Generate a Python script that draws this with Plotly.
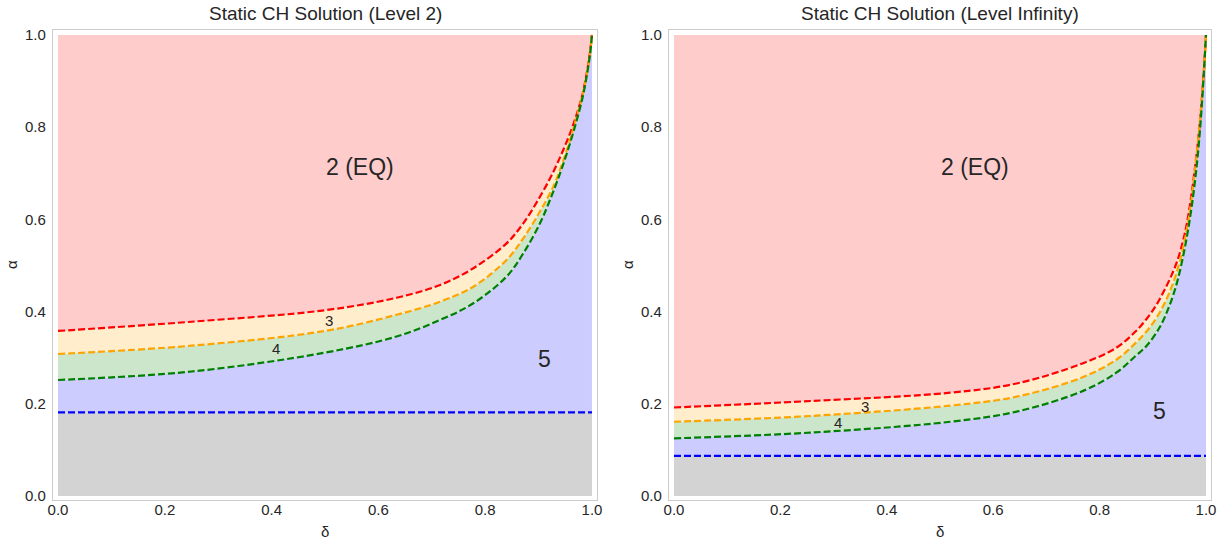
import plotly.graph_objects as go

# ---------------- data ----------------
# Level 2
l2_red_d = [0.0, 0.25, 0.5, 0.634, 0.7154, 0.7778, 0.840, 0.8714, 0.9026, 0.9276, 0.946, 0.960, 0.972, 0.982, 0.990, 0.996, 1.0]
l2_red_a = [0.358, 0.378, 0.403, 0.430, 0.4577, 0.494, 0.548, 0.5915, 0.649, 0.703, 0.750, 0.790, 0.830, 0.870, 0.916, 0.960, 1.0]

l2_org_d = [0.0, 0.25, 0.5, 0.634, 0.7154, 0.7778, 0.840, 0.8714, 0.9026, 0.9276, 0.944, 0.957, 0.969, 0.979, 0.987, 0.993, 0.997, 1.0]
l2_org_a = [0.308, 0.326, 0.358, 0.393, 0.4215, 0.454, 0.512, 0.559, 0.617, 0.671, 0.720, 0.765, 0.813, 0.854, 0.894, 0.934, 0.966, 1.0]

l2_grn_d = [0.0, 0.25, 0.5, 0.634, 0.7154, 0.7778, 0.840, 0.8714, 0.9026, 0.9213, 0.938, 0.952, 0.964, 0.975, 0.984, 0.991, 0.996, 1.0]
l2_grn_a = [0.2516, 0.270, 0.311, 0.346, 0.3818, 0.418, 0.476, 0.5264, 0.5915, 0.642, 0.693, 0.740, 0.785, 0.830, 0.873, 0.917, 0.955, 1.0]

l2_blue = 0.1815

# Level Infinity
li_red_d = [0.0, 0.256, 0.519, 0.644, 0.769, 0.832, 0.866, 0.889, 0.907, 0.922, 0.935, 0.946, 0.955, 0.963, 0.971, 0.978, 0.985, 0.991, 0.996, 1.0]
li_red_a = [0.192, 0.206, 0.224, 0.244, 0.288, 0.322, 0.355, 0.385, 0.415, 0.447, 0.478, 0.510, 0.545, 0.585, 0.640, 0.700, 0.770, 0.845, 0.922, 1.0]

li_org_d = [0.0, 0.256, 0.519, 0.644, 0.769, 0.832, 0.866, 0.889, 0.910, 0.927, 0.940, 0.951, 0.960, 0.968, 0.975, 0.982, 0.988, 0.993, 0.997, 1.0]
li_org_a = [0.161, 0.1735, 0.196, 0.2154, 0.258, 0.296, 0.330, 0.358, 0.392, 0.430, 0.468, 0.510, 0.555, 0.605, 0.665, 0.735, 0.805, 0.870, 0.935, 1.0]

li_grn_d = [0.0, 0.256, 0.519, 0.644, 0.769, 0.832, 0.866, 0.8885, 0.9135, 0.932, 0.946, 0.957, 0.966, 0.974, 0.981, 0.987, 0.992, 0.996, 1.0]
li_grn_a = [0.125, 0.1374, 0.161, 0.183, 0.228, 0.268, 0.302, 0.326, 0.367, 0.415, 0.465, 0.520, 0.575, 0.635, 0.700, 0.770, 0.845, 0.920, 1.0]

li_blue = 0.0868

titles = ["Static CH Solution (Level 2)", "Static CH Solution (Level Infinity)"]
tick_vals = [0.0, 0.2, 0.4, 0.6, 0.8, 1.0]
tick_text = ["0.0", "0.2", "0.4", "0.6", "0.8", "1.0"]

# region labels: (text, delta, alpha, size)
labels_l2 = [("2 (EQ)", 0.566, 0.714, 23), ("5", 0.912, 0.2965, 23), ("3", 0.508, 0.380, 15), ("4", 0.408, 0.319, 15)]
labels_li = [("2 (EQ)", 0.566, 0.714, 23), ("5", 0.9135, 0.185, 23), ("3", 0.359, 0.1937, 15), ("4", 0.308, 0.159, 15)]

# ---------------- styling ----------------
W, H = 1225, 542
FONT = "Liberation Sans, Arial, sans-serif"
TXT = "#262626"
C_GRAY, C_BLUE, C_GREEN, C_ORANGE, C_RED = "#d3d3d3", "#ccccff", "#cce6cc", "#ffedcc", "#ffcccc"
DASH = "7px,3px"
LW = 2.2
SMOOTH = 1.0

fig = go.Figure()

panels = [
    ("x", "y", l2_red_d, l2_red_a, l2_org_d, l2_org_a, l2_grn_d, l2_grn_a, l2_blue, labels_l2),
    ("x2", "y2", li_red_d, li_red_a, li_org_d, li_org_a, li_grn_d, li_grn_a, li_blue, labels_li),
]

for xa, ya, rd, ra, od, oa, gd, ga, b, labs in panels:
    common = dict(xaxis=xa, yaxis=ya, showlegend=False, hoverinfo="skip", mode="lines")
    # fills (bottom to top)
    fig.add_trace(go.Scatter(x=[0, 1], y=[0, 0], line=dict(width=0), **common))
    fig.add_trace(go.Scatter(x=[0, 1], y=[b, b], fill="tonexty", fillcolor=C_GRAY, line=dict(width=0), **common))
    fig.add_trace(go.Scatter(x=gd, y=ga, fill="tonexty", fillcolor=C_BLUE,
                             line=dict(width=0, shape="spline", smoothing=SMOOTH), **common))
    fig.add_trace(go.Scatter(x=od, y=oa, fill="tonexty", fillcolor=C_GREEN,
                             line=dict(width=0, shape="spline", smoothing=SMOOTH), **common))
    fig.add_trace(go.Scatter(x=rd, y=ra, fill="tonexty", fillcolor=C_ORANGE,
                             line=dict(width=0, shape="spline", smoothing=SMOOTH), **common))
    fig.add_trace(go.Scatter(x=[0, 1], y=[1, 1], fill="tonexty", fillcolor=C_RED, line=dict(width=0), **common))
    # dashed boundaries
    fig.add_trace(go.Scatter(x=[0, 1], y=[b, b], line=dict(color="#0000ff", width=LW, dash=DASH), **common))
    fig.add_trace(go.Scatter(x=rd, y=ra, line=dict(color="#ff0000", width=LW, dash=DASH, shape="spline", smoothing=SMOOTH), **common))
    fig.add_trace(go.Scatter(x=od, y=oa, line=dict(color="#ffa500", width=LW, dash=DASH, shape="spline", smoothing=SMOOTH), **common))
    fig.add_trace(go.Scatter(x=gd, y=ga, line=dict(color="#008000", width=LW, dash=DASH, shape="spline", smoothing=SMOOTH), **common))
    for t, dx, ay, sz in labs:
        fig.add_annotation(x=dx, y=ay, xref=xa, yref=ya, text=t, showarrow=False,
                           font=dict(family=FONT, size=sz, color=TXT), xanchor="center", yanchor="middle")

# panel geometry in pixels
frames = [(53, 597), (669, 1211)]
top_px, bot_px = 30, 500

axis_common = dict(
    showgrid=False, zeroline=False, showline=True, mirror=True, automargin=False,
    linecolor="#cccccc", linewidth=1.25, ticks="",
    tickvals=tick_vals, ticktext=tick_text,
    tickfont=dict(family=FONT, size=15, color=TXT),
)

xr = [-0.0094, 1.0094]
yr = [-0.0087, 1.0108]

layout_axes = {}
for i, (l, r) in enumerate(frames):
    sx = "" if i == 0 else str(i + 1)
    layout_axes["xaxis" + sx] = dict(domain=[l / W, r / W], range=xr, anchor="y" + sx,
                                     ticklabelstandoff=-4, **axis_common)
    layout_axes["yaxis" + sx] = dict(domain=[1 - bot_px / H, 1 - top_px / H], range=yr, anchor="x" + sx,
                                     ticklabelstandoff=3, **axis_common)
    cx = (l + r) / 2
    fig.add_annotation(x=cx / W, y=1 - 14 / H, xref="paper", yref="paper", text=titles[i], showarrow=False,
                       font=dict(family=FONT, size=19, color=TXT), xanchor="center", yanchor="middle")
    fig.add_annotation(x=cx / W, y=1 - 531 / H, xref="paper", yref="paper", text="δ", showarrow=False,
                       font=dict(family=FONT, size=15, color=TXT), xanchor="center", yanchor="middle")
    fig.add_annotation(x=(l - 41) / W, y=1 - 265 / H, xref="paper", yref="paper", text="α", showarrow=False,
                       textangle=-90, font=dict(family=FONT, size=15, color=TXT), xanchor="center", yanchor="middle")

fig.update_layout(
    width=W, height=H,
    template="none",
    margin=dict(l=0, r=0, t=0, b=0, pad=0),
    paper_bgcolor="white", plot_bgcolor="white",
    font=dict(family=FONT, color=TXT),
    **layout_axes,
)

fig.write_html(
    "out.html",
    config={"displayModeBar": False, "staticPlot": True},
    post_script="document.body.style.margin='0';document.body.style.padding='0';document.body.style.overflow='hidden';",
)
